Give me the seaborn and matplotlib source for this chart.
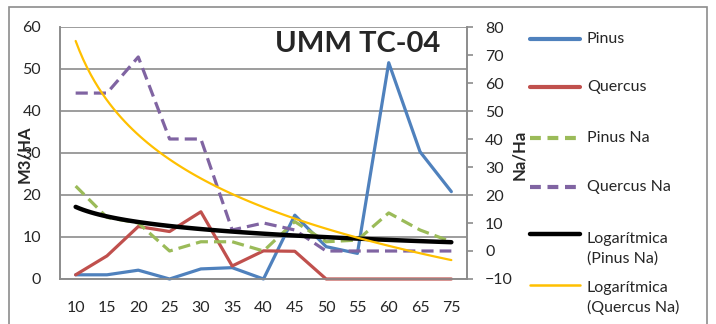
import matplotlib
matplotlib.use("Agg")
import matplotlib.pyplot as plt
from matplotlib.lines import Line2D
from matplotlib.patches import Rectangle
import numpy as np
import seaborn as sns

# Diameter classes (cm) and series values
categories = ["10", "15", "20", "25", "30", "35", "40", "45", "50", "55", "60", "65", "75"]
pinus = [1.0, 1.0, 2.1, 0.0, 2.4, 2.7, 0.0, 15.2, 7.7, 6.1, 51.5, 30.3, 20.8]
quercus = [1.0, 5.5, 12.5, 11.3, 16.0, 3.1, 6.7, 6.6, 0.0, 0.0, 0.0, 0.0, 0.0]
pinus_na = [23.2, 12.0, 10.0, 0.0, 3.3, 3.3, 0.0, 10.5, 3.3, 3.9, 13.6, 7.5, 3.3]
quercus_na = [56.4, 56.4, 69.3, 40.0, 40.0, 7.5, 10.0, 7.5, 0.0, 0.0, 0.0, 0.0, 0.0]

left_ticks = [0, 10, 20, 30, 40, 50, 60]
right_ticks = [-10, 0, 10, 20, 30, 40, 50, 60, 70, 80]

title = "UMM TC-04"
left_label = "M3/HA"
right_label = "Na/Ha"
legend_labels = ["Pinus", "Quercus", "Pinus Na", "Quercus Na",
                 "Logarítmica\n(Pinus Na)", "Logarítmica\n(Quercus Na)"]

BLUE, RED, GREEN, PURPLE = "#4F81BD", "#C0504D", "#9BBB59", "#8064A2"
BLACK, GOLD = "#000000", "#FFC000"
GRID = "#8C8C8C"

sns.set_style("white")
plt.rcParams["font.family"] = ["Lato", "DejaVu Sans"]
plt.rcParams["font.size"] = 11.5

W, H = 716, 324
fig = plt.figure(figsize=(W / 100, H / 100), dpi=100)

# plot area in pixel coordinates (top-origin)
px_l, px_r, px_t, px_b = 60, 467, 27, 279
ax = fig.add_axes([px_l / W, 1 - px_b / H, (px_r - px_l) / W, (px_b - px_t) / H])
ax2 = ax.twinx()

pos = np.arange(1, len(categories) + 1)

# primary axis: volume per hectare
ax.set_axisbelow(True)
sns.lineplot(x=pos, y=pinus, ax=ax, color=BLUE, lw=2.3, zorder=3, clip_on=False)
sns.lineplot(x=pos, y=quercus, ax=ax, color=RED, lw=2.3, zorder=3, clip_on=False)

# secondary axis: stems per hectare and logarithmic trends
dash = (0, (3.8, 1.9))
sns.lineplot(x=pos, y=pinus_na, ax=ax2, color=GREEN, lw=2.3, linestyle=dash)
sns.lineplot(x=pos, y=quercus_na, ax=ax2, color=PURPLE, lw=2.3, linestyle=dash)
sns.regplot(x=pos, y=np.array(pinus_na), ax=ax2, logx=True, scatter=False, ci=None,
            line_kws=dict(color=BLACK, lw=3.2))
sns.regplot(x=pos, y=np.array(quercus_na), ax=ax2, logx=True, scatter=False, ci=None,
            line_kws=dict(color=GOLD, lw=1.6))

for a in (ax, ax2):
    a.set_xlim(0.5, len(categories) + 0.5)
    a.set_xlabel("")
    a.set_facecolor("none")
    for s in a.spines.values():
        s.set_color(GRID)
        s.set_linewidth(1.2)
    a.spines["top"].set_visible(False)

ax.set_ylim(0, 60)
ax.set_yticks(left_ticks)
ax.set_xticks(pos)
ax.set_xticklabels(categories)
ax.yaxis.grid(True, color=GRID, lw=1.2)
ax.tick_params(axis="y", length=0, pad=13.5, labelsize=11.5)
ax.tick_params(axis="x", length=0, pad=16, labelsize=11.5)

ax2.set_ylim(-10, 80)
ax2.set_yticks(right_ticks)
ax2.tick_params(axis="y", direction="out", length=4, width=1.2, color=GRID, pad=9, labelsize=11.5)
ax2.grid(False)

ax.set_ylabel(left_label, fontweight="bold", fontsize=12)
ax.yaxis.set_label_coords((32 - px_l) / (px_r - px_l), (px_b - 154) / (px_b - px_t))
ax2.set_ylabel(right_label, fontweight="bold", fontsize=12, rotation=90)
ax2.yaxis.set_label_coords((511 - px_l) / (px_r - px_l), (px_b - 155) / (px_b - px_t))

fig.text(358 / W, 1 - 44 / H, title, ha="center", va="center",
         fontsize=21, fontweight="bold")

# legend
styles = [
    dict(color=BLUE, lw=3.0),
    dict(color=RED, lw=3.0),
    dict(color=GREEN, lw=3.0, linestyle=(0, (2.6, 1.6))),
    dict(color=PURPLE, lw=3.0, linestyle=(0, (2.6, 1.6))),
    dict(color=BLACK, lw=3.2),
    dict(color=GOLD, lw=1.8),
]
line_y = [39, 87, 138, 187, 234, 285]
text_y = [39, 87, 138, 187, 249, 298]
for st, ly, ty, lab in zip(styles, line_y, text_y, legend_labels):
    fig.add_artist(Line2D([530 / W, 580 / W], [1 - ly / H, 1 - ly / H],
                          transform=fig.transFigure, solid_capstyle="round", **st))
    fig.text(587 / W, 1 - ty / H, lab, ha="left", va="center",
             fontsize=11.5, linespacing=1.45)

# chart frame
fig.add_artist(Rectangle((9 / W, -0.05), (707 - 9) / W, 1 - 7 / H + 0.05,
                         transform=fig.transFigure, fill=False,
                         edgecolor=GRID, lw=1.2))

fig.savefig("out.png", dpi=100)
